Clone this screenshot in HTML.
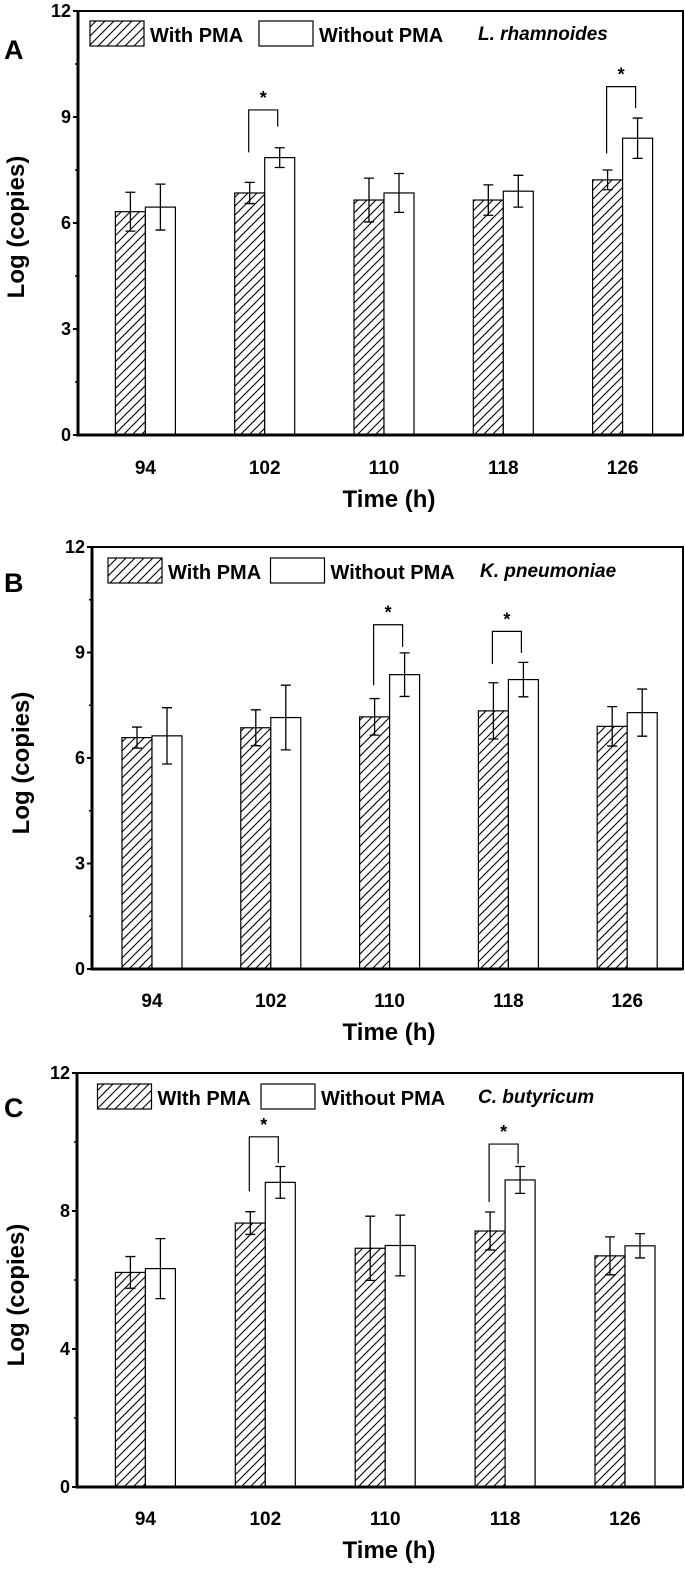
<!DOCTYPE html>
<html><head><meta charset="utf-8"><style>
html,body{margin:0;padding:0;background:#fff;}
svg{display:block;font-family:"Liberation Sans",Arial,sans-serif;font-weight:bold;}
</style></head><body>
<svg id="fig" width="685" height="1580" viewBox="0 0 685 1580" xmlns="http://www.w3.org/2000/svg">
<defs>
<pattern id="hatch" patternUnits="userSpaceOnUse" width="9" height="9">
<path d="M-1,10 L10,-1 M-1,1 L1,-1 M8,10 L10,8" stroke="#000" stroke-width="1.1"/>
</pattern>
</defs>
</svg>
<script>
const categories = ["94","102","110","118","126"];
const aWith = [6.32, 6.85, 6.65, 6.65, 7.22];
const aWithErr = [0.55, 0.3, 0.62, 0.43, 0.28];
const aWithout = [6.45, 7.85, 6.85, 6.9, 8.4];
const aWithoutErr = [0.65, 0.28, 0.55, 0.45, 0.57];
const aTicks = [0, 3, 6, 9, 12];
const aMinor = [1.5, 4.5, 7.5, 10.5];
const aSig = [[1, 8.0, 9.2, 8.73], [4, 7.97, 9.86, 9.25]];

const bWith = [6.58, 6.86, 7.17, 7.34, 6.9];
const bWithErr = [0.3, 0.51, 0.52, 0.8, 0.56];
const bWithout = [6.63, 7.15, 8.37, 8.23, 7.29];
const bWithoutErr = [0.8, 0.92, 0.62, 0.49, 0.67];
const bTicks = [0, 3, 6, 9, 12];
const bMinor = [1.5, 4.5, 7.5, 10.5];
const bSig = [[2, 8.07, 9.79, 9.16], [3, 8.67, 9.6, 8.99]];

const cWith = [6.22, 7.65, 6.92, 7.42, 6.7];
const cWithErr = [0.46, 0.33, 0.93, 0.55, 0.55];
const cWithout = [6.33, 8.83, 7.0, 8.9, 6.99];
const cWithoutErr = [0.87, 0.46, 0.88, 0.39, 0.35];
const cTicks = [0, 4, 8, 12];
const cMinor = [2, 6, 10];
const cSig = [[1, 8.57, 10.15, 9.39], [3, 8.26, 9.94, 9.37]];

const NS = "http://www.w3.org/2000/svg";
const svg = document.getElementById('fig');
function mk(tag, attrs, parent, text) {
  const e = document.createElementNS(NS, tag);
  for (const k in attrs) e.setAttribute(k, attrs[k]);
  if (text !== undefined) e.textContent = text;
  (parent || svg).appendChild(e);
  return e;
}

function panel(cfg) {
  const g = mk('g', {});
  
  
  const y = v => cfg.bottom - (v / 12) * (cfg.bottom - cfg.top);
  const xc = i => cfg.c0 + i * cfg.step;
  const bw = 30;
  categories.forEach((c, i) => {
    const x = xc(i);
    const h1 = mk('rect', {x: x - bw, y: y(cfg.w[i]), width: bw, height: y(0) - y(cfg.w[i]), fill: 'url(#hatch)', stroke: '#000', 'stroke-width': 1.2}, g);
    
    
    const h2 = mk('rect', {x: x, y: y(cfg.wo[i]), width: bw, height: y(0) - y(cfg.wo[i]), fill: '#fff', stroke: '#000', 'stroke-width': 1.2}, g);
    
    
    [[x - bw / 2, cfg.w[i], cfg.we[i]], [x + bw / 2, cfg.wo[i], cfg.woe[i]]].forEach(([ex, v, e]) => {
      const eb = mk('path', {d: `M${ex},${y(v - e)}V${y(v + e)}M${ex - 5},${y(v - e)}H${ex + 5}M${ex - 5},${y(v + e)}H${ex + 5}`, stroke: '#000', 'stroke-width': 1.3, fill: 'none'}, g);
      
      
    });
    const tl = mk('text', {x: x, y: cfg.tickY, 'text-anchor': 'middle', 'font-size': 19}, g, c);
    
    
  });
  cfg.sig.forEach(([i, yl, yt, yr]) => {
    const x1 = xc(i) - bw / 2 - 1, x2 = xc(i) + bw / 2 - 2;
    const br = mk('path', {d: `M${x1},${y(yl)}V${y(yt)}H${x2}V${y(yr)}`, stroke: '#000', 'stroke-width': 1.2, fill: 'none'}, g);
    
    
    const st = mk('text', {x: (x1 + x2) / 2, y: y(yt) - 6, 'text-anchor': 'middle', 'font-size': 18}, g, '*');
    
    
  });
  const fr = mk('rect', {x: cfg.left, y: cfg.top, width: cfg.right - cfg.left, height: cfg.bottom - cfg.top, fill: 'none', stroke: '#000', 'stroke-width': 2}, g);
  
  
  const ya = mk('line', {x1: cfg.left, y1: cfg.top - 1, x2: cfg.left, y2: cfg.bottom + 1.5, stroke: '#000', 'stroke-width': 3}, g);
  
  
  const xa = mk('line', {x1: cfg.left, y1: cfg.bottom, x2: cfg.right, y2: cfg.bottom, stroke: '#000', 'stroke-width': 3}, g);
  
  
  cfg.ticks.forEach(t => {
    const tk = mk('line', {x1: cfg.left - 5, y1: y(t), x2: cfg.left, y2: y(t), stroke: '#000', 'stroke-width': 2}, g);
    
    
    const tl = mk('text', {x: cfg.left - 7, y: y(t) + 6, 'text-anchor': 'end', 'font-size': 18}, g, String(t));
    
    
  });
  cfg.minor.forEach(t => {
    const tk = mk('line', {x1: cfg.left - 3, y1: y(t), x2: cfg.left, y2: y(t), stroke: '#000', 'stroke-width': 1.5}, g);
    
    
  });
  const yt = mk('text', {x: 0, y: 0, 'text-anchor': 'middle', 'font-size': 24, transform: `translate(${cfg.ytx},${cfg.yty}) rotate(-90)`}, g, 'Log (copies)');
  
  
  const xt = mk('text', {x: 389, y: cfg.xtY, 'text-anchor': 'middle', 'font-size': 24}, g, 'Time (h)');
  
  
  const pl = mk('text', {x: 4, y: cfg.labY, 'font-size': 27}, g, cfg.letter);
  
  
  const L = cfg.leg;
  const lb1 = mk('rect', {x: L.x1, y: L.y, width: 54, height: 25, fill: 'url(#hatch)', stroke: '#000', 'stroke-width': 1.2}, g);
  
  
  const lt1 = mk('text', {x: L.x1 + 60, y: L.y + 21, 'font-size': 20}, g, cfg.withLabel);
  
  
  const lb2 = mk('rect', {x: L.x2, y: L.y, width: 54, height: 25, fill: '#fff', stroke: '#000', 'stroke-width': 1.2}, g);
  
  
  const lt2 = mk('text', {x: L.x2 + 60, y: L.y + 21, 'font-size': 20}, g, 'Without PMA');
  
  
  const sp = mk('text', {x: L.x3, y: L.y + 19, 'font-size': 19, 'font-style': 'italic'}, g, cfg.species);
  
  
}

panel({letter: 'A', left: 78, right: 683, top: 11, bottom: 435, c0: 145.4, step: 119.3,
  w: aWith, we: aWithErr, wo: aWithout, woe: aWithoutErr, ticks: aTicks, minor: aMinor, sig: aSig,
  tickY: 474, xtY: 507, ytx: 24, yty: 227, labY: 59, withLabel: 'With PMA',
  leg: {x1: 90, x2: 259, x3: 478, y: 21}, species: 'L. rhamnoides'});
panel({letter: 'B', left: 92, right: 683, top: 547, bottom: 969, c0: 152, step: 118.8,
  w: bWith, we: bWithErr, wo: bWithout, woe: bWithoutErr, ticks: bTicks, minor: bMinor, sig: bSig,
  tickY: 1007, xtY: 1040, ytx: 29, yty: 763, labY: 592, withLabel: 'With PMA',
  leg: {x1: 108, x2: 270.5, x3: 480, y: 558}, species: 'K. pneumoniae'});
panel({letter: 'C', left: 77, right: 683, top: 1073, bottom: 1487, c0: 145.4, step: 119.9,
  w: cWith, we: cWithErr, wo: cWithout, woe: cWithoutErr, ticks: cTicks, minor: cMinor, sig: cSig,
  tickY: 1525, xtY: 1558, ytx: 24, yty: 1295, labY: 1117, withLabel: 'WIth PMA',
  leg: {x1: 97.5, x2: 261, x3: 478, y: 1084}, species: 'C. butyricum'});
</script>
</body></html>
